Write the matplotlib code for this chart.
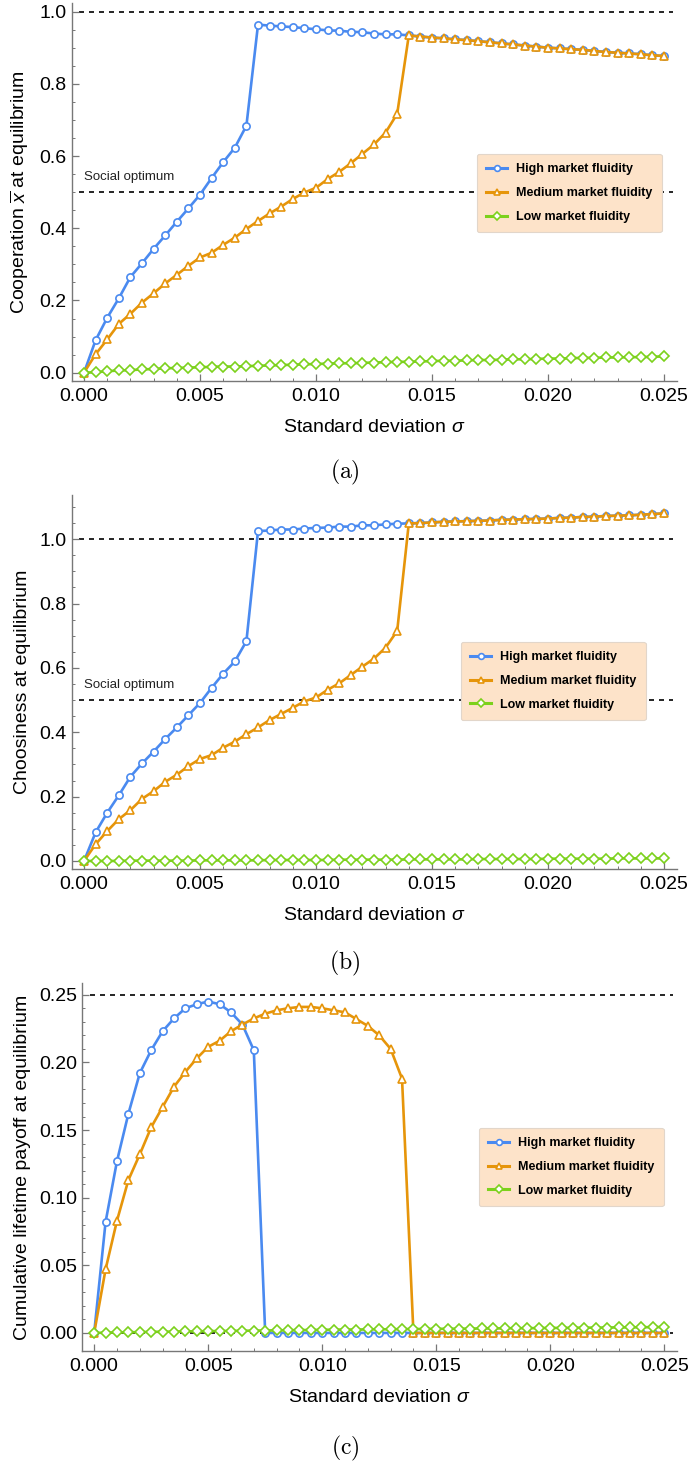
import numpy as np
import matplotlib
import matplotlib.pyplot as plt
from matplotlib.lines import Line2D
matplotlib.use('Agg')

plt.rcParams['font.family'] = ['Liberation Sans', 'DejaVu Sans']
plt.rcParams['mathtext.fontset'] = 'custom'
plt.rcParams['mathtext.it'] = 'Liberation Sans:italic'
plt.rcParams['mathtext.rm'] = 'Liberation Sans'

# sigma grid: 0 .. 0.025 in steps of 0.0005
sigma = np.arange(51) * 0.0005

series_names = ['High market fluidity', 'Medium market fluidity', 'Low market fluidity']

# (a) cooperation at equilibrium
coop_high = [0.000, 0.090, 0.152, 0.206, 0.265, 0.303, 0.343, 0.380, 0.418, 0.455,
             0.493, 0.539, 0.583, 0.623, 0.684, 0.964, 0.961, 0.959, 0.957, 0.954,
             0.951, 0.948, 0.947, 0.944, 0.943, 0.939, 0.937, 0.937, 0.934, 0.931,
             0.928, 0.926, 0.923, 0.921, 0.918, 0.915, 0.912, 0.909, 0.906, 0.903,
             0.900, 0.898, 0.896, 0.894, 0.891, 0.888, 0.886, 0.884, 0.882, 0.879,
             0.877]
coop_med = [0.000, 0.051, 0.092, 0.135, 0.163, 0.194, 0.220, 0.247, 0.271, 0.296,
            0.319, 0.332, 0.354, 0.374, 0.398, 0.420, 0.441, 0.460, 0.481, 0.499,
            0.512, 0.536, 0.556, 0.580, 0.606, 0.632, 0.665, 0.717, 0.934, 0.931,
            0.928, 0.926, 0.923, 0.921, 0.918, 0.915, 0.912, 0.909, 0.906, 0.903,
            0.900, 0.898, 0.896, 0.894, 0.891, 0.888, 0.886, 0.884, 0.882, 0.879,
            0.877]
coop_low = [0.000, 0.001, 0.004, 0.006, 0.007, 0.009, 0.010, 0.012, 0.013, 0.014,
            0.015, 0.016, 0.017, 0.017, 0.018, 0.019, 0.020, 0.021, 0.022, 0.023,
            0.024, 0.025, 0.026, 0.026, 0.027, 0.028, 0.029, 0.030, 0.030, 0.031,
            0.032, 0.033, 0.033, 0.034, 0.035, 0.035, 0.036, 0.037, 0.037, 0.038,
            0.039, 0.039, 0.040, 0.041, 0.041, 0.042, 0.042, 0.043, 0.043, 0.044,
            0.045]

# (b) choosiness at equilibrium
choos_high = [0.000, 0.089, 0.150, 0.204, 0.262, 0.303, 0.340, 0.379, 0.415, 0.453,
              0.491, 0.538, 0.582, 0.620, 0.683, 1.025, 1.027, 1.030, 1.030, 1.033,
              1.035, 1.036, 1.039, 1.039, 1.043, 1.043, 1.046, 1.048, 1.049, 1.050,
              1.052, 1.054, 1.055, 1.056, 1.057, 1.058, 1.060, 1.061, 1.062, 1.063,
              1.064, 1.066, 1.067, 1.069, 1.070, 1.072, 1.073, 1.074, 1.076, 1.078,
              1.080]
choos_med = [0.000, 0.052, 0.093, 0.130, 0.158, 0.193, 0.217, 0.246, 0.268, 0.295,
             0.317, 0.329, 0.352, 0.371, 0.394, 0.415, 0.438, 0.457, 0.476, 0.496,
             0.508, 0.532, 0.552, 0.578, 0.604, 0.629, 0.663, 0.715, 1.049, 1.050,
             1.052, 1.054, 1.055, 1.056, 1.057, 1.058, 1.060, 1.061, 1.062, 1.063,
             1.064, 1.066, 1.067, 1.069, 1.070, 1.072, 1.073, 1.074, 1.076, 1.078,
             1.080]
choos_low = [0.000, 0.000, 0.000, 0.000, 0.001, 0.001, 0.001, 0.001, 0.001, 0.001,
             0.002, 0.002, 0.002, 0.002, 0.002, 0.002, 0.003, 0.003, 0.003, 0.003,
             0.003, 0.003, 0.004, 0.004, 0.004, 0.004, 0.004, 0.004, 0.005, 0.005,
             0.005, 0.005, 0.005, 0.005, 0.006, 0.006, 0.006, 0.006, 0.006, 0.006,
             0.007, 0.007, 0.007, 0.007, 0.007, 0.007, 0.008, 0.008, 0.008, 0.008,
             0.008]

# (c) cumulative lifetime payoff at equilibrium
pay_high = [0.000, 0.082, 0.127, 0.162, 0.192, 0.209, 0.223, 0.2325, 0.240, 0.243,
            0.245, 0.243, 0.237, 0.228, 0.209] + [0.000] * 36
pay_med = [0.000, 0.047, 0.083, 0.113, 0.132, 0.152, 0.167, 0.182, 0.193, 0.203,
           0.2115, 0.216, 0.223, 0.228, 0.2325, 0.236, 0.2385, 0.240, 0.241, 0.241,
           0.240, 0.2385, 0.237, 0.232, 0.227, 0.220, 0.210, 0.188] + [0.000] * 23
pay_low = [0.0000, 0.0002, 0.0004, 0.0005, 0.0006, 0.0008, 0.0009, 0.0010, 0.0011, 0.0012,
           0.0013, 0.0014, 0.0015, 0.0016, 0.0017, 0.0018, 0.0019, 0.0020, 0.0021, 0.0022,
           0.0023, 0.0024, 0.0025, 0.0025, 0.0026, 0.0027, 0.0027, 0.0028, 0.0029, 0.0029,
           0.0030, 0.0031, 0.0031, 0.0032, 0.0033, 0.0033, 0.0034, 0.0035, 0.0035, 0.0036,
           0.0037, 0.0037, 0.0038, 0.0039, 0.0039, 0.0040, 0.0041, 0.0041, 0.0042, 0.0043,
           0.0044]

colors = ['#4a8af0', '#e6950a', '#7cd11c']
markers = ['o', '^', 'D']
msizes = [5.2, 5.6, 4.8]

fig = plt.figure(figsize=(6.9, 14.63), dpi=100)

panels = [
    dict(rect=[0.1043, 0.7396, 0.8768, 0.2584], data=(coop_high, coop_med, coop_low),
         ylim=(-0.023, 1.024), major=0.2, minor=0.05, fmt='%.1f',
         ylabel=r'Cooperation $\overline{x}$ at equilibrium', refs=[1.0, 0.5],
         optimum=0.5, legend_xy=(0.985, 0.497), caption='(a)', cap_y=1 - 472 / 1463,
         ylab_x=-0.068),
    dict(rect=[0.1043, 0.4060, 0.8768, 0.2556], data=(choos_high, choos_med, choos_low),
         ylim=(-0.025, 1.137), major=0.2, minor=0.05, fmt='%.1f',
         ylabel='Choosiness at equilibrium', refs=[1.0, 0.5],
         optimum=0.5, legend_xy=(0.959, 0.503), caption='(b)', cap_y=1 - 963 / 1463,
         ylab_x=-0.068),
    dict(rect=[0.1193, 0.0766, 0.8619, 0.2515], data=(pay_high, pay_med, pay_low),
         ylim=(-0.0133, 0.2587), major=0.05, minor=0.01, fmt='%.2f',
         ylabel='Cumulative lifetime payoff at equilibrium', refs=[0.25, 0.0],
         optimum=None, legend_xy=(0.988, 0.50), caption='(c)', cap_y=1 - 1448 / 1463,
         ylab_x=-0.086),
]

for p in panels:
    ax = fig.add_axes(p['rect'])
    # reference lines
    for r in p['refs']:
        ax.plot([-0.0002, 0.0254], [r, r], color='black', ls=(0, (3, 3)), lw=1.2, zorder=1)
    for vals, c, m, ms in zip(p['data'], colors, markers, msizes):
        ax.plot(sigma, vals, color=c, lw=1.9, marker=m, ms=ms, mfc='white',
                mec=c, mew=1.2, zorder=3)
    if p['optimum'] is not None:
        ax.text(0.0, p['optimum'] + 0.025 * (p['ylim'][1] - p['ylim'][0]), 'Social optimum',
                fontsize=9.5, color='#222222', va='bottom', ha='left')

    ax.set_xlim(-0.00052, 0.02556)
    ax.set_ylim(*p['ylim'])
    ax.set_xticks(np.arange(0, 0.0251, 0.005))
    ax.set_xticks(np.arange(0, 0.0251, 0.001), minor=True)
    ax.xaxis.set_major_formatter(matplotlib.ticker.FormatStrFormatter('%.3f'))
    ax.set_yticks(np.arange(0, p['ylim'][1], p['major']))
    ax.set_yticks(np.arange(0, p['ylim'][1], p['minor']), minor=True)
    ax.yaxis.set_major_formatter(matplotlib.ticker.FormatStrFormatter(p['fmt']))

    for s in ['top', 'right']:
        ax.spines[s].set_visible(False)
    for s in ['left', 'bottom']:
        ax.spines[s].set_color('#777777')
        ax.spines[s].set_linewidth(1.0)
    ax.tick_params(which='both', direction='in', color='#777777', labelsize=14)
    ax.tick_params(which='major', length=5, width=0.9)
    ax.tick_params(which='minor', length=2.5, width=0.7)
    ax.tick_params(axis='x', pad=5)
    ax.tick_params(axis='y', pad=4)

    ax.set_xlabel(r'Standard deviation $\sigma$', fontsize=14, labelpad=10)
    ax.set_ylabel(p['ylabel'], fontsize=14)
    ax.yaxis.set_label_coords(p['ylab_x'], 0.5)

    handles = [Line2D([], [], color=c, lw=2.2, marker=m, ms=ms, mfc='white', mec=c, mew=1.2)
               for c, m, ms in zip(colors, markers, msizes)]
    leg = ax.legend(handles, series_names, loc='center right',
                    bbox_to_anchor=p['legend_xy'],
                    prop={'weight': 'bold', 'size': 9}, frameon=True, fancybox=True,
                    handlelength=1.7, handletextpad=0.7, labelspacing=0.95,
                    borderpad=0.75, markerscale=0.8)
    frame = leg.get_frame()
    frame.set_facecolor('#fde3c9')
    frame.set_edgecolor('#e2d6ca')
    frame.set_alpha(1.0)
    frame.set_linewidth(0.8)
    leg.set_zorder(5)

    fig.text(0.5, p['cap_y'], r'$\mathrm{' + p['caption'] + '}$', ha='center', va='center',
             fontsize=17, math_fontfamily='cm')

fig.savefig('out.png', dpi=100)
